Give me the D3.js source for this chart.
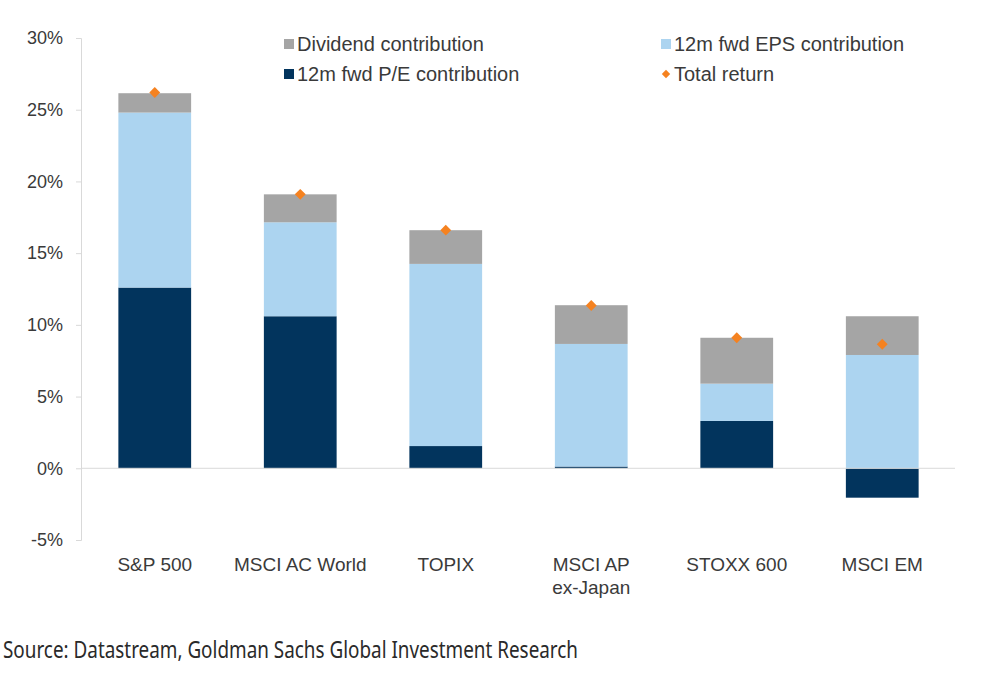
<!DOCTYPE html>
<html><head><meta charset="utf-8">
<script src="https://cdn.jsdelivr.net/npm/d3@7"></script>
<style>body{margin:0;background:#fff;}svg{display:block;}</style>
</head><body>
<svg id="c" width="985" height="676"></svg>
<script>
const categories = ["S&P 500", "MSCI AC World", "TOPIX", "MSCI AP|ex-Japan", "STOXX 600", "MSCI EM"];
const peContribution = [12.6, 10.6, 1.55, 0.12, 3.3, -2.05];
const epsContribution = [12.2, 6.55, 12.7, 8.55, 2.6, 7.9];
const dividendContribution = [1.35, 1.95, 2.35, 2.7, 3.2, 2.7];
const totalReturn = [26.2, 19.1, 16.6, 11.35, 9.1, 8.65];
const yTicks = [-5, 0, 5, 10, 15, 20, 25, 30];
const seriesNames = ["Dividend contribution", "12m fwd EPS contribution", "12m fwd P/E contribution", "Total return"];
const colors = {pe: "#02345d", eps: "#acd4f0", div: "#a5a5a5", total: "#f58220"};

(function () {
const svg = d3.select("#c");
const mLeft = 82, mRight = 955, mTop = 38, mBottom = 540;
const x = d3.scaleBand().domain(categories).range([mLeft, mRight]).paddingInner(0.5).paddingOuter(0.25);
const y = d3.scaleLinear().domain([-5, 30]).range([mBottom, mTop]);
const textColor = "#3a3a3a";
const font = "Liberation Sans, Arial, sans-serif";

// y axis
const yAxis = d3.axisLeft(y).tickValues(yTicks).tickFormat(d => d + "%").tickSize(5).tickPadding(13);
const ga = svg.append("g").attr("transform", `translate(${mLeft - 1},0)`).call(yAxis);
ga.select(".domain").attr("stroke", "#d9d9d9");
ga.selectAll(".tick line").attr("stroke", "#d9d9d9");
ga.selectAll(".tick text").attr("fill", textColor).style("font-family", font).style("font-size", "18px");

// stacks
const rows = categories.map((c, i) => {
  const pe = peContribution[i], eps = epsContribution[i], dv = dividendContribution[i];
  const segs = [];
  if (pe >= 0) {
    segs.push({k: "pe", y0: 0, y1: pe});
    segs.push({k: "eps", y0: pe, y1: pe + eps});
    segs.push({k: "div", y0: pe + eps, y1: pe + eps + dv});
  } else {
    segs.push({k: "pe", y0: pe, y1: 0});
    segs.push({k: "eps", y0: 0, y1: eps});
    segs.push({k: "div", y0: eps, y1: eps + dv});
  }
  return {c, segs};
});
const g = svg.append("g");
rows.forEach(r => {
  g.selectAll(null).data(r.segs).enter().append("rect")
    .attr("x", x(r.c)).attr("width", x.bandwidth())
    .attr("y", d => y(Math.max(d.y0, d.y1)))
    .attr("height", d => Math.abs(y(d.y0) - y(d.y1)))
    .attr("fill", d => colors[d.k]);
});

// zero line
svg.append("line").attr("x1", mLeft - 1).attr("x2", mRight).attr("y1", y(0)).attr("y2", y(0))
  .attr("stroke", "#d9d9d9").attr("stroke-width", 1);

// total diamonds
svg.append("g").selectAll("path").data(categories).enter().append("path")
  .attr("d", d3.symbol().type(d3.symbolDiamond2).size(75))
  .attr("transform", (c, i) => `translate(${x(c) + x.bandwidth() / 2},${y(totalReturn[i])})`)
  .attr("fill", colors.total);

// category labels
const lab = svg.append("g").style("font-family", font).style("font-size", "19px").attr("fill", textColor);
categories.forEach(c => {
  const cx = x(c) + x.bandwidth() / 2;
  const t = lab.append("text").attr("x", cx).attr("y", 571).attr("text-anchor", "middle");
  c.split("|").forEach((line, j) => {
    t.append("tspan").attr("x", cx).attr("dy", j === 0 ? 0 : 23).text(line);
  });
});

// legend
const leg = svg.append("g").style("font-family", font).style("font-size", "20px").attr("fill", textColor);
const legItems = [
  {name: seriesNames[0], k: "div", x: 284, y: 44},
  {name: seriesNames[1], k: "eps", x: 661, y: 44},
  {name: seriesNames[2], k: "pe", x: 284, y: 74},
  {name: seriesNames[3], k: "total", x: 661, y: 74}
];
legItems.forEach(it => {
  if (it.k === "total") {
    leg.append("path").attr("d", d3.symbol().type(d3.symbolDiamond2).size(45)).attr("transform", `translate(${it.x + 5},${it.y})`).attr("fill", colors.total);
  } else {
    leg.append("rect").attr("x", it.x).attr("y", it.y - 5).attr("width", 10).attr("height", 10).attr("fill", colors[it.k]);
  }
  leg.append("text").attr("x", it.x + 13).attr("y", it.y + 7).text(it.name);
});

// source
svg.append("text").attr("x", 3).attr("y", 658).attr("fill", "#2a2a2a")
  .style("font-family", "Noto Sans, sans-serif").style("font-size", "23px")
  .attr("textLength", 575).attr("lengthAdjust", "spacingAndGlyphs")
  .text("Source: Datastream, Goldman Sachs Global Investment Research");
})();
</script>
</body></html>
